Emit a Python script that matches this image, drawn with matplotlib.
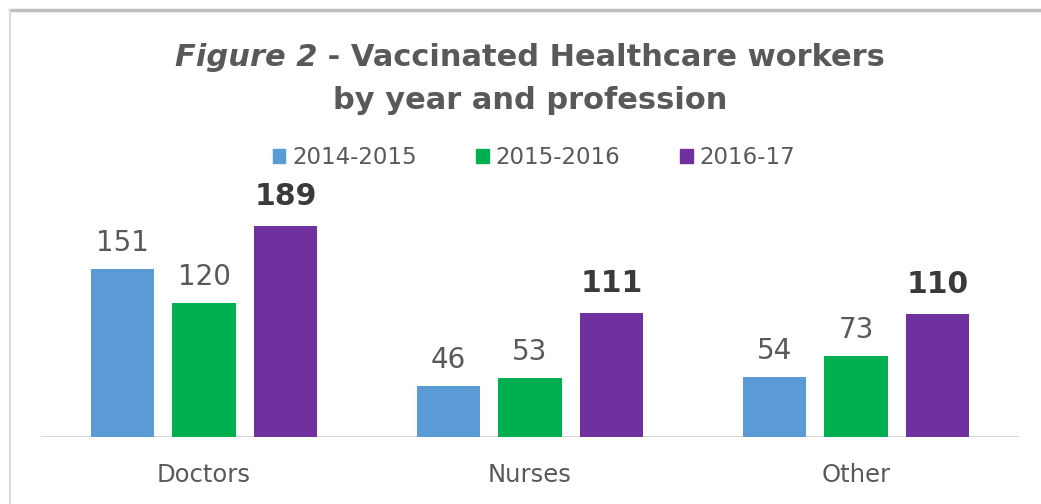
import matplotlib.pyplot as plt
import numpy as np
from matplotlib.lines import Line2D

# data
professions = ['Doctors', 'Nurses', 'Other']
seasons = ['2014-2015', '2015-2016', '2016-17']
values = {
    '2014-2015': [151, 46, 54],
    '2015-2016': [120, 53, 73],
    '2016-17': [189, 111, 110],
}
colors = ['#5B9BD5', '#00B050', '#7030A0']

plt.rcParams['font.family'] = ['DejaVu Sans']
grey = '#595959'

fig = plt.figure(figsize=(10.41, 5.04), dpi=100)
ax = fig.add_axes([0.0394, 0.133, 0.9395, 0.4425])

x = np.arange(len(professions))
width = 0.196
step = 0.25

for i, season in enumerate(seasons):
    pos = x + (i - 1) * step
    bars = ax.bar(pos, values[season], width, color=colors[i], label=season, zorder=3)
    last = i == len(seasons) - 1
    for b, v in zip(bars, values[season]):
        ax.annotate(str(v), (b.get_x() + b.get_width() / 2, v),
                    xytext=(0, 13 if not last else 15), textcoords='offset points',
                    ha='center', va='baseline',
                    fontsize=21.5 if last else 20,
                    fontweight='bold' if last else 'normal',
                    color='#3a3a3a' if last else grey)

ax.set_xlim(-0.5, 2.5)
ax.set_ylim(0, 200)
ax.axhline(0, color='#d9d9d9', lw=1.5, zorder=2)
ax.set_xticks(x)
ax.set_xticklabels(professions, fontsize=17.5, color=grey)
ax.tick_params(axis='x', length=0, pad=19)
ax.set_yticks([])
for s in ax.spines.values():
    s.set_visible(False)

# title: italic "Figure 2" followed by bold text, centred as one line
renderer = fig.canvas.get_renderer()
part1 = fig.text(0, 0.885, 'Figure 2', fontsize=22, fontweight='bold',
                 style='italic', color=grey, va='center')
part2 = fig.text(0, 0.885, ' - Vaccinated Healthcare workers', fontsize=22,
                 fontweight='bold', color=grey, va='center')
w1 = part1.get_window_extent(renderer).width / fig.bbox.width
w2 = part2.get_window_extent(renderer).width / fig.bbox.width
start = 0.509 - (w1 + w2) / 2
part1.set_x(start)
part2.set_x(start + w1)
fig.text(0.509, 0.80, 'by year and profession',
         ha='center', va='center', fontsize=22, fontweight='bold', color=grey)

handles = [plt.Rectangle((0, 0), 1, 1, color=c) for c in colors]
fig.legend(handles, seasons, loc='center', bbox_to_anchor=(0.513, 0.688),
           ncol=3, frameon=False, fontsize=16.5, labelcolor=grey,
           handlelength=0.55, handleheight=0.55, handletextpad=0.3, columnspacing=2.6)

# frame lines of the original screenshot
fig.add_artist(Line2D([0.0096, 1.0], [0.98, 0.98], color='#bfbfbf', lw=2.5))
fig.add_artist(Line2D([0.0096, 0.0096], [0.0, 0.98], color='#d9d9d9', lw=1.5))

fig.savefig('out.png', dpi=100, facecolor='white')
